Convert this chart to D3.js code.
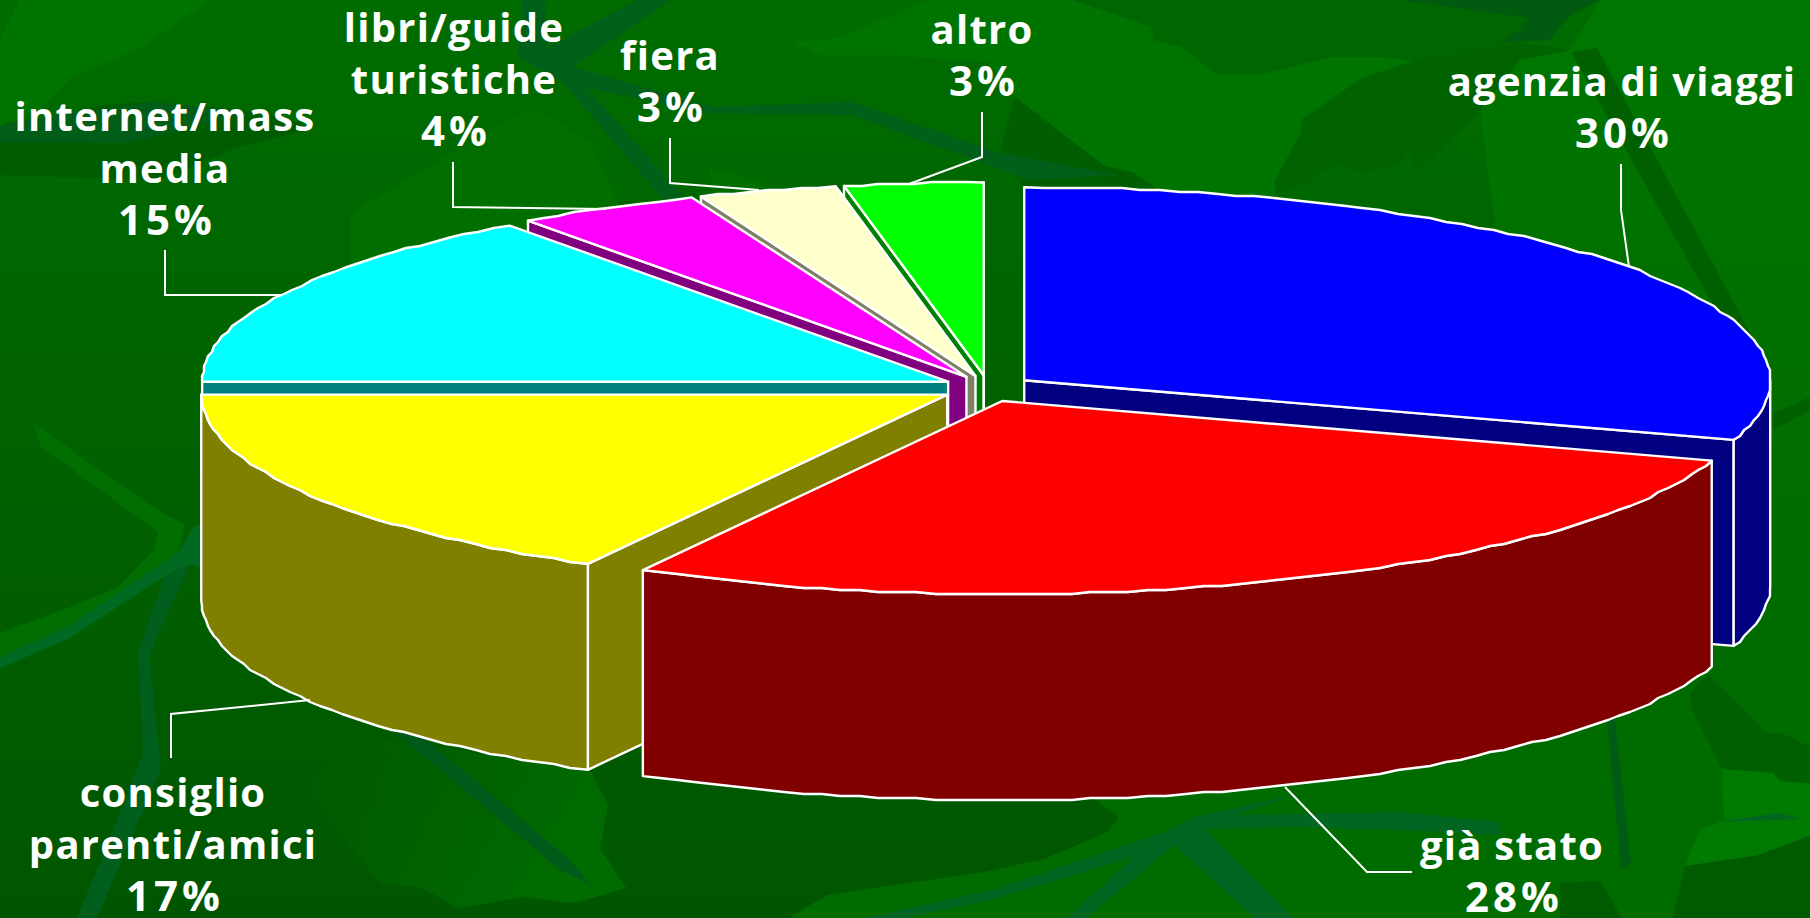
<!DOCTYPE html>
<html>
<head>
<meta charset="utf-8">
<script src="https://d3js.org/d3.v7.min.js"></script>
<style>
  html, body { margin: 0; padding: 0; background: #006400; overflow: hidden; }
  svg { display: block; }
  .label { font-family: "Open Sans", sans-serif; font-weight: 700; font-size: 40px; letter-spacing: 1.25px; fill: #fff; text-anchor: middle; }
  .label.pct { font-size: 42px; letter-spacing: 4px; }
</style>
</head>
<body>
<div id="chart-container"></div>
<script>
// slices, clockwise from twelve o'clock
const categories = ['agenzia di viaggi', 'già stato', 'consiglio parenti/amici', 'internet/mass media',
  'libri/guide turistiche', 'fiera', 'altro'];
const percents = [30, 28, 17, 15, 4, 3, 3];
const topColors = ['#0000ff', '#ff0000', '#ffff00', '#00ffff', '#ff00ff', '#ffffcc', '#00ff00'];
const wallColors = ['#000080', '#800000', '#808000', '#008080', '#800080', '#808066', '#008000'];

// overall SVG dimensions
const svgWidth = 1810;
const svgHeight = 918;

const svg = d3.select('#chart-container')
  .append('svg')
  .attr('width', svgWidth)
  .attr('height', svgHeight);

// ---- background leaves, just decoration behind the chart ----
const defs = svg.append('defs');
const vGrad = (id, stops) => {
  const g = defs.append('linearGradient').attr('id', id).attr('x1', 0).attr('y1', 0).attr('x2', 0).attr('y2', 1);
  stops.forEach(s => g.append('stop').attr('offset', s[0]).attr('stop-color', s[1]));
};
vGrad('base', [['0%', '#006c00'], ['55%', '#006000'], ['100%', '#005600']]);
vGrad('rightLeaf', [['0%', '#007600'], ['100%', '#006a00']]);

const fadeLeaf = defs.append('linearGradient').attr('id', 'fadeLeaf')
  .attr('gradientUnits', 'userSpaceOnUse')
  .attr('x1', 330).attr('y1', 740).attr('x2', 560).attr('y2', 900);
fadeLeaf.append('stop').attr('offset', '0%').attr('stop-color', '#006c00').attr('stop-opacity', 0);
fadeLeaf.append('stop').attr('offset', '100%').attr('stop-color', '#006c00').attr('stop-opacity', 1);

svg.append('rect').attr('width', svgWidth).attr('height', svgHeight).attr('fill', 'url(#base)');

const leaves = [
  // right side and bottom right are lighter
  ['url(#rightLeaf)', [[1480, 110], [1520, 60], [1570, 50], [1600, 0], [1810, 0], [1810, 660], [1700, 660], [1560, 340], [1500, 260]]],
  ['#006c00', [[1000, 790], [1810, 640], [1810, 918], [789, 918], [827, 895], [984, 872], [1044, 859], [1107, 832], [1119, 818], [1095, 799]]],
  // top left
  ['#007400', [[20, 0], [210, 0], [140, 48], [70, 78], [40, 110], [0, 125], [0, 40]]],
  ['#005c00', [[0, 142], [100, 105], [153, 102], [270, 113], [313, 128], [236, 148], [160, 180], [0, 175]]],
  ['#005e18', [[0, 142], [128, 143], [255, 112], [153, 102], [60, 115], [0, 125]]],
  ['#006f00', [[351, 213], [522, 112], [545, 113], [591, 143], [621, 210], [621, 300], [351, 300]]],
  ['#006e00', [[709, 168], [755, 180], [782, 197], [715, 197]]],
  // big light leaf at the top, from the altro label to the agenzia label
  ['#007400', [[927, 0], [1072, 0], [1152, 27], [1154, 40], [1181, 47], [1217, 74], [1263, 74], [1331, 57], [1382, 57], [1413, 61], [1362, 78], [1301, 120], [1301, 133], [1274, 182], [1276, 192], [1200, 300], [1024, 300], [1155, 188], [1134, 173], [1103, 165], [1015, 97], [987, 62], [887, 55], [817, 55], [793, 42], [839, 38]]],
  ['#005e00', [[1015, 97], [1103, 165], [1134, 173], [1155, 188], [1024, 188], [1000, 150]]],
  // top veins
  ['#00601a', [[522, 0], [545, 0], [547, 48], [637, 0], [671, 0], [572, 67], [713, 107], [851, 102], [1000, 153], [1119, 175], [1030, 180], [851, 115], [706, 113], [587, 88], [683, 197], [663, 200], [564, 83], [518, 57]]],
  // top centre dark leaf
  ['#006600', [[1072, 0], [1152, 27], [1154, 40], [1181, 47], [1217, 74], [1263, 74], [1331, 57], [1382, 57], [1413, 61], [1520, 42], [1570, 17], [1600, 0]]],
  ['#006300', [[1413, 61], [1362, 78], [1301, 120], [1301, 133], [1274, 182], [1276, 192], [1307, 183], [1320, 172], [1341, 163], [1362, 174], [1395, 166], [1411, 151], [1414, 170], [1426, 163], [1480, 110], [1520, 60], [1570, 50], [1520, 42]]],
  ['#005a10', [[1400, 0], [1542, 20], [1568, 0]]],
  ['#005a10', [[1500, 42], [1550, 40], [1570, 15], [1600, 0], [1540, 0], [1520, 30]]],
  ['#006000', [[1571, 52], [1597, 48], [1754, 340], [1770, 370], [1713, 305]]],
  // left side veins
  ['#006e00', [[33, 422], [92, 465], [150, 505], [185, 525], [179, 552], [70, 625], [0, 657], [0, 633], [70, 607], [117, 588], [154, 550], [158, 532], [40, 446]]],
  ['#006a22', [[193, 527], [200, 525], [200, 568], [190, 564], [165, 576], [68, 639], [0, 668], [0, 657], [70, 625], [179, 552]]],
  ['#005f1c', [[165, 576], [138, 653], [143, 753], [117, 820], [77, 918], [97, 918], [161, 769], [149, 655], [190, 564]]],
  // bottom left leaf
  ['url(#fadeLeaf)', [[591, 772], [608, 805], [600, 848], [626, 888], [574, 903], [522, 897], [459, 908], [422, 888], [379, 883], [300, 780], [260, 720]]],
  ['#005a1a', [[396, 733], [420, 735], [570, 860], [591, 885], [560, 870]]],
  // bottom veins
  ['#006622', [[1191, 818], [1165, 832], [993, 890], [863, 918], [904, 918], [990, 900], [1134, 857], [1067, 918], [1086, 918], [1174, 845], [1255, 918], [1293, 918], [1204, 829], [1290, 827], [1400, 830], [1500, 835], [1500, 822], [1400, 812], [1236, 815], [1293, 795]]],
  // bottom right patches
  ['#005f00', [[1690, 694], [1692, 710], [1722, 769], [1773, 773], [1780, 781], [1810, 784], [1810, 747], [1782, 733], [1767, 733], [1707, 674]]],
  ['#007a00', [[1722, 769], [1773, 773], [1780, 781], [1810, 784], [1810, 835], [1757, 855], [1685, 866], [1700, 830], [1724, 820]]],
  ['#005a00', [[1810, 836], [1757, 856], [1685, 866], [1673, 918], [1810, 918]]],
  ['#005c14', [[1607, 722], [1615, 718], [1631, 863], [1621, 871]]],
  ['#005a00', [[1560, 883], [1600, 881], [1622, 918], [1560, 918]]],
  ['#006000', [[1773, 414], [1810, 397], [1810, 410], [1773, 430]]],
  ['#006622', [[1717, 822], [1780, 813], [1800, 819]]]
];
const leafLine = d3.line().curve(d3.curveLinearClosed);
svg.append('g').attr('id', 'leaves').selectAll('path')
  .data(leaves)
  .enter().append('path')
  .attr('d', d => leafLine(d[1]))
  .attr('fill', d => d[0]);

// ---- the 3D pie ----
const depth = 206;
const explode = 0.06;
const toRad = Math.PI / 180;

// pie plane, unit circle onto the screen ellipse
const xScale = d3.scaleLinear().domain([-1, 1]).range([242, 1734]);
const yScale = d3.scaleLinear().domain([-1, 1]).range([194, 580]);

const pie = d3.pie().sort(null).value(d => d.pct);
const slices = pie(categories.map((name, i) => ({ name, pct: percents[i], top: topColors[i], wall: wallColors[i] })));

// point of a slice at angle a (radians, clockwise from top), r = 0 is the apex
const project = (s, a, r, drop) => {
  const mid = (s.startAngle + s.endAngle) / 2;
  // slices towards the viewer sit a bit lower and more to the left, the original has some perspective
  const front = Math.cos(mid) < 0;
  const ux = r * Math.sin(a) + explode * Math.sin(mid) - (front ? 0.003 : 0);
  const uy = -r * Math.cos(a) - explode * Math.cos(mid) * (front ? 1.3 : 1);
  return [xScale(ux), yScale(uy) + drop];
};

// rim points, snapped to a small grid: the original rim is stair-stepped
const snap = v => Math.round(v / 2) * 2;
const arcPoints = (s, a0, a1, drop) => {
  const n = Math.max(2, Math.ceil((a1 - a0) / (1.5 * toRad)));
  return d3.range(n + 1).map(i => {
    const p = project(s, a0 + (a1 - a0) * i / n, 1, drop);
    return i === 0 || i === n ? p : [snap(p[0]), snap(p[1])];
  });
};

const poly = d3.line().curve(d3.curveLinearClosed);
const pieGroup = svg.append('g').attr('id', 'pie');

const face = (pts, fill) => pieGroup.append('path')
  .attr('d', poly(pts))
  .attr('fill', fill)
  .attr('stroke', '#fff')
  .attr('stroke-width', 2.4)
  .attr('stroke-linejoin', 'round');

// back to front: altro, fiera, libri, internet, agenzia, consiglio, gia stato
[6, 5, 4, 3, 0, 2, 1].forEach(i => {
  const s = slices[i];
  const a0 = s.startAngle;
  const a1 = s.endAngle;
  const wall = s.data.wall;

  // cut faces, only those turned to the viewer
  if (Math.sin(a0) < 0) {
    face([project(s, a0, 0, 0), project(s, a0, 1, 0), project(s, a0, 1, depth), project(s, a0, 0, depth)], wall);
  }
  if (Math.sin(a1) > 0) {
    face([project(s, a1, 0, 0), project(s, a1, 1, 0), project(s, a1, 1, depth), project(s, a1, 0, depth)], wall);
  }

  // outer rim, front half of the circle only
  const r0 = Math.max(a0, Math.PI / 2);
  const r1 = Math.min(a1, Math.PI * 1.5);
  if (r1 > r0) {
    face(arcPoints(s, r0, r1, 0).concat(arcPoints(s, r0, r1, depth).reverse()), wall);
  }

  // top
  face([project(s, a0, 0, 0)].concat(arcPoints(s, a0, a1, 0)), s.data.top);
});

// ---- labels and leader lines ----
const labelLines = [
  ['agenzia di viaggi'],
  ['già stato'],
  ['consiglio', 'parenti/amici'],
  ['internet/mass', 'media'],
  ['libri/guide', 'turistiche'],
  ['fiera'],
  ['altro']
];
const labelX = [1622, 1512, 173, 165, 454, 670, 982];
const labelY = [96, 860, 807, 131, 42, 70, 44];
const lineStep = 52;

const leaders = [
  [[1621, 164], [1621, 210], [1629, 267]],
  [[1285, 787], [1367, 872], [1412, 872]],
  [[310, 700], [171, 714], [171, 758]],
  [[165, 250], [165, 295], [281, 295]],
  [[453, 162], [453, 207], [606, 209]],
  [[670, 138], [670, 183], [759, 190]],
  [[982, 112], [982, 157], [909, 184]]
];

svg.append('g').attr('id', 'leaders').selectAll('path')
  .data(leaders)
  .enter().append('path')
  .attr('d', d3.line())
  .attr('fill', 'none')
  .attr('stroke', '#fff')
  .attr('stroke-width', 2);

const labels = svg.append('g').attr('id', 'labels');
labelLines.forEach((lines, i) => {
  lines.forEach((t, j) => {
    labels.append('text')
      .attr('class', 'label')
      .attr('x', labelX[i])
      .attr('y', labelY[i] + j * lineStep)
      .text(t);
  });
  // last line is the percent, read from the data
  labels.append('text')
    .attr('class', 'label pct')
    .attr('x', labelX[i] + 2)
    .attr('y', labelY[i] + lines.length * lineStep)
    .text(percents[i] + '%');
});
</script>
</body>
</html>
